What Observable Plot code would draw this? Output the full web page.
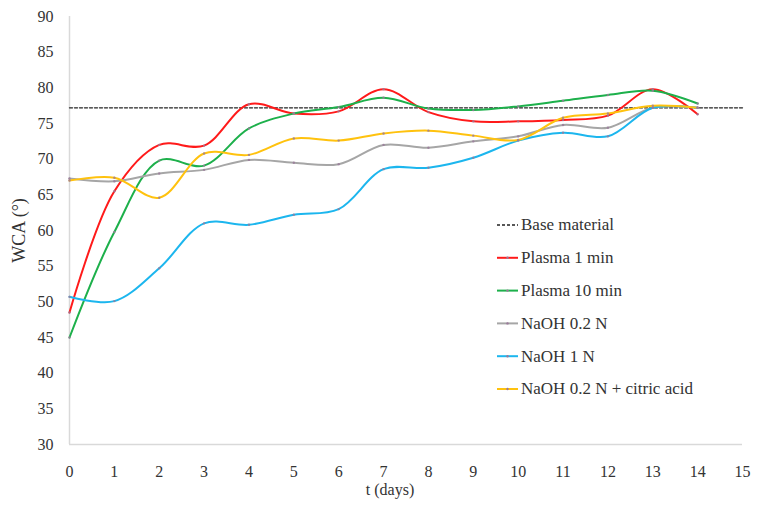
<!DOCTYPE html>
<html>
<head>
<meta charset="utf-8">
<script src="https://cdn.jsdelivr.net/npm/d3@7"></script>
<script src="https://cdn.jsdelivr.net/npm/@observablehq/plot@0.6"></script>
<style>
  html, body { margin: 0; padding: 0; background: #fff; }
  #chart { width: 757px; height: 514px; }
</style>
</head>
<body>
<div id="chart"></div>
<script>
const days = [0, 1, 2, 3, 4, 5, 6, 7, 8, 9, 10, 11, 12, 13, 14];
const baseMaterial = 77.2;
const baseDays = [0, 15];
const plasma1 = [48.5, 65.5, 72.0, 71.9, 77.7, 76.4, 76.7, 79.8, 76.6, 75.3, 75.3, 75.5, 76.1, 79.8, 76.3];
const plasma10 = [45.0, 59.8, 69.8, 69.1, 74.3, 76.4, 77.3, 78.6, 77.1, 76.9, 77.4, 78.2, 79.0, 79.6, 77.8];
const naoh02 = [67.3, 66.9, 68.0, 68.5, 69.9, 69.5, 69.3, 72.0, 71.6, 72.5, 73.2, 74.8, 74.4, 77.2, 77.2];
const naoh1 = [50.7, 50.1, 54.7, 61.0, 60.8, 62.2, 63.0, 68.6, 68.8, 70.2, 72.6, 73.7, 73.2, 77.2, 77.2];
const citric = [67.0, 67.4, 64.6, 70.8, 70.6, 72.9, 72.6, 73.6, 74.0, 73.3, 72.7, 75.8, 76.4, 77.5, 77.2];
const seriesNames = ["Plasma 1 min", "Plasma 10 min", "NaOH 0.2 N", "NaOH 1 N", "NaOH 0.2 N + citric acid"];
const seriesValues = [plasma1, plasma10, naoh02, naoh1, citric];
const seriesColors = ["#ff1a1a", "#1db04b", "#a6a6a6", "#1cb6ee", "#ffc20e"];
const baseLabel = "Base material";
const xLabel = "t (days)";
const yLabel = "WCA (°)";
const xTicks = d3.range(0, 16);
const yTicks = d3.range(30, 91, 5);

const rows = [];
seriesNames.forEach((name, i) => {
  seriesValues[i].forEach((v, j) => rows.push({series: name, day: days[j], wca: v}));
});
const baseRows = baseDays.map(d => ({day: d, wca: baseMaterial}));

const font = "'Liberation Serif', serif";
const textColor = "#333333";
const axisColor = "#d9d9d9";

const plot = Plot.plot({
  width: 757,
  height: 514,
  marginLeft: 69,
  marginRight: 15,
  marginTop: 16,
  marginBottom: 70,
  style: {fontSize: "16px", color: textColor, background: "#fff"},
  x: {domain: [0, 15]},
  y: {domain: [30, 90]},
  color: {domain: seriesNames, range: seriesColors},
  marks: [
    Plot.ruleX([0], {stroke: axisColor, strokeWidth: 1.5}),
    Plot.ruleY([30], {stroke: axisColor, strokeWidth: 1.5}),
    Plot.axisY({ticks: yTicks, tickSize: 0, tickPadding: 16, label: null, fontSize: 16}),
    Plot.axisY({ticks: [], label: yLabel, labelAnchor: "center", labelArrow: "none", labelOffset: 57, fontSize: 18}),
    Plot.axisX({ticks: xTicks, tickSize: 0, tickPadding: 21, label: null, fontSize: 16}),
    Plot.text([xLabel], {frameAnchor: "bottom", dy: 50, dx: -16, fontSize: 16, fill: textColor}),
    Plot.line(baseRows, {x: "day", y: "wca", stroke: "#222", strokeWidth: 1.3, strokeDasharray: "3,2"}),
    Plot.line(rows, {x: "day", y: "wca", z: "series", stroke: "series", strokeWidth: 2, curve: "catmull-rom"}),
    Plot.dot(rows, {x: "day", y: "wca", r: 1.2, fill: "#9a7a9a", fillOpacity: 0.8})
  ]
});

// Legend inside the plot area
const svg = d3.select(plot);
const legendX = 497, legendY0 = 225, legendStep = 32.8;
const legendItems = [{name: baseLabel, color: "#222", dash: "3,2"}]
  .concat(seriesNames.map((n, i) => ({name: n, color: seriesColors[i], dash: null})));
const lg = svg.append("g").attr("font-size", 17).attr("fill", textColor).attr("text-anchor", "start");
legendItems.forEach((it, i) => {
  const y = legendY0 + i * legendStep;
  lg.append("line").attr("x1", legendX).attr("x2", legendX + 21).attr("y1", y).attr("y2", y)
    .attr("stroke", it.color).attr("stroke-width", it.dash ? 1.3 : 2)
    .attr("stroke-dasharray", it.dash);
  if (!it.dash) lg.append("circle").attr("cx", legendX + 10.5).attr("cy", y).attr("r", 1.2).attr("fill", "#9a7a9a");
  lg.append("text").attr("x", legendX + 24).attr("y", y).attr("dy", "0.32em").attr("text-anchor", "start").text(it.name);
});

svg.attr("font-family", font);
svg.style("font-family", font);
svg.selectAll("g, text").attr("font-family", font).style("font-family", font, "important");

document.getElementById("chart").appendChild(plot);
</script>
</body>
</html>
